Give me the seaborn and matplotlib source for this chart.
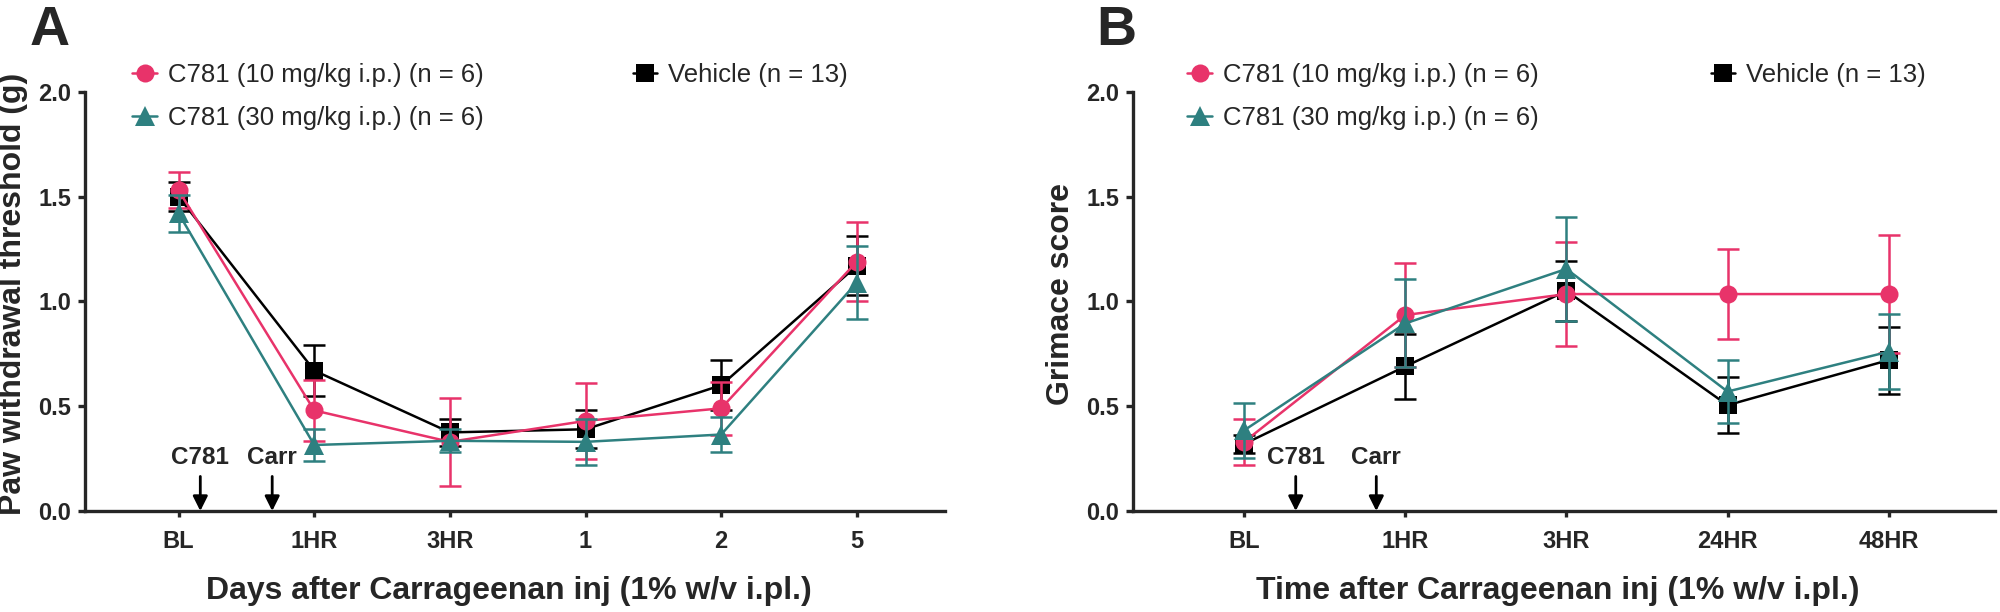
import numpy as np
import pandas as pd
import matplotlib
matplotlib.use("Agg")
import matplotlib.pyplot as plt
from matplotlib.lines import Line2D
import seaborn as sns

# ---------------- data ----------------
groups = ["Vehicle (n = 13)", "C781 (10 mg/kg i.p.) (n = 6)", "C781 (30 mg/kg i.p.) (n = 6)"]
colors = ["#000000", "#E8336A", "#2E8080"]
markers = ["s", "o", "^"]

# Panel A: paw withdrawal threshold (g)
a_labels = ["BL", "1HR", "3HR", "1", "2", "5"]
a_vehicle = [1.50, 0.67, 0.375, 0.39, 0.60, 1.17]
a_vehicle_sem = [0.07, 0.12, 0.065, 0.09, 0.12, 0.14]
a_c10 = [1.53, 0.48, 0.33, 0.43, 0.49, 1.19]
a_c10_sem = [0.085, 0.145, 0.21, 0.18, 0.125, 0.19]
a_c30 = [1.42, 0.315, 0.335, 0.33, 0.365, 1.09]
a_c30_sem = [0.09, 0.077, 0.055, 0.11, 0.085, 0.175]

# Panel B: grimace score
b_labels = ["BL", "1HR", "3HR", "24HR", "48HR"]
b_vehicle = [0.32, 0.69, 1.05, 0.505, 0.72]
b_vehicle_sem = [0.045, 0.155, 0.145, 0.135, 0.16]
b_c10 = [0.33, 0.935, 1.035, 1.035, 1.035]
b_c10_sem = [0.11, 0.25, 0.25, 0.215, 0.28]
b_c30 = [0.385, 0.895, 1.155, 0.57, 0.76]
b_c30_sem = [0.13, 0.21, 0.25, 0.15, 0.18]

# injection arrows (position in category units)
a_arrows = [("C781", 0.16), ("Carr", 0.69)]
b_arrows = [("C781", 0.32), ("Carr", 0.82)]

a_xlabel = "Days after Carrageenan inj (1% w/v i.pl.)"
a_ylabel = "Paw withdrawal threshold (g)"
b_xlabel = "Time after Carrageenan inj (1% w/v i.pl.)"
b_ylabel = "Grimace score"

# ---------------- style ----------------
sns.set_style("ticks")
plt.rcParams["font.family"] = ["Liberation Sans", "DejaVu Sans"]

fig = plt.figure(figsize=(20, 6.12), dpi=100)
axA = fig.add_axes([0.0425, 0.165, 0.43, 0.685])
axB = fig.add_axes([0.5665, 0.165, 0.431, 0.685])

msizes = {"s": 12.5, "o": 13, "^": 14}
LEG_FS = 18.5


def draw_panel(ax, labels, means, sems, arrows, xlabel, ylabel, xr):
    frames = []
    for g, m in zip(groups, means):
        frames.append(pd.DataFrame({"pos": np.arange(len(labels)), "mean": m, "group": g}))
    df = pd.concat(frames, ignore_index=True)
    for i, g in enumerate(groups):
        sub = df[df["group"] == g]
        sns.lineplot(data=sub, x="pos", y="mean", color=colors[i], marker=markers[i],
                     markersize=msizes[markers[i]], markeredgewidth=0, linewidth=1.8,
                     ax=ax, legend=False, zorder=3 + i)
        ax.errorbar(sub["pos"], sub["mean"], yerr=sems[i], fmt="none", ecolor=colors[i],
                    elinewidth=1.8, capsize=8, capthick=1.8, zorder=3 + i)
    ax.set_xlim(*xr)
    ax.set_ylim(0, 2.0)
    ax.set_yticks([0, 0.5, 1.0, 1.5, 2.0])
    ax.set_yticklabels(["0.0", "0.5", "1.0", "1.5", "2.0"])
    ax.set_xticks(np.arange(len(labels)))
    ax.set_xticklabels(labels)
    for t in ax.get_xticklabels() + ax.get_yticklabels():
        t.set_fontweight("bold")
        t.set_fontsize(17)
    sns.despine(ax=ax)
    ax.spines["left"].set_linewidth(2.4)
    ax.spines["bottom"].set_linewidth(2.4)
    ax.tick_params(axis="y", length=5, width=2.4, pad=5)
    ax.tick_params(axis="x", length=4.5, width=2.4, pad=9)
    ax.set_xlabel(xlabel, fontsize=23, fontweight="bold")
    ax.set_ylabel(ylabel, fontsize=23, fontweight="bold")
    ax.xaxis.set_label_coords(0.493, -0.155)
    ax.yaxis.set_label_coords(-0.066, 0.517)
    for txt, x in arrows:
        ax.annotate("", xy=(x, 0.0), xytext=(x, 0.165),
                    arrowprops=dict(arrowstyle="-|>", color="black", lw=2,
                                    mutation_scale=22, shrinkA=0, shrinkB=0))
        ax.text(x, 0.2, txt, ha="center", va="bottom", fontsize=17.5, fontweight="bold")

    def handle(i):
        return Line2D([], [], color=colors[i], marker=markers[i], markersize=msizes[markers[i]],
                      markeredgewidth=0, linewidth=1.8)
    return handle


def add_legends(ax, handle, x1, x2):
    leg1 = ax.legend([handle(1), handle(2)], [groups[1], groups[2]], loc="upper left",
                     bbox_to_anchor=(x1, 1.068), frameon=False, fontsize=LEG_FS,
                     handlelength=0.95, handletextpad=0.42, labelspacing=0.72,
                     borderpad=0, borderaxespad=0)
    ax.add_artist(leg1)
    ax.legend([handle(0)], [groups[0]], loc="upper left",
              bbox_to_anchor=(x2, 1.068), frameon=False, fontsize=LEG_FS,
              handlelength=0.95, handletextpad=0.42, borderpad=0, borderaxespad=0)


hA = draw_panel(axA, a_labels, [a_vehicle, a_c10, a_c30], [a_vehicle_sem, a_c10_sem, a_c30_sem],
                a_arrows, a_xlabel, a_ylabel, (-0.69, 5.65))
add_legends(axA, hA, 0.055, 0.637)
hB = draw_panel(axB, b_labels, [b_vehicle, b_c10, b_c30], [b_vehicle_sem, b_c10_sem, b_c30_sem],
                b_arrows, b_xlabel, b_ylabel, (-0.69, 4.66))
add_legends(axB, hB, 0.063, 0.67)

fig.text(0.015, 0.926, "A", fontsize=40, fontweight="bold", va="baseline")
fig.text(0.548, 0.926, "B", fontsize=40, fontweight="bold", va="baseline")

fig.savefig("out.png", dpi=100)
